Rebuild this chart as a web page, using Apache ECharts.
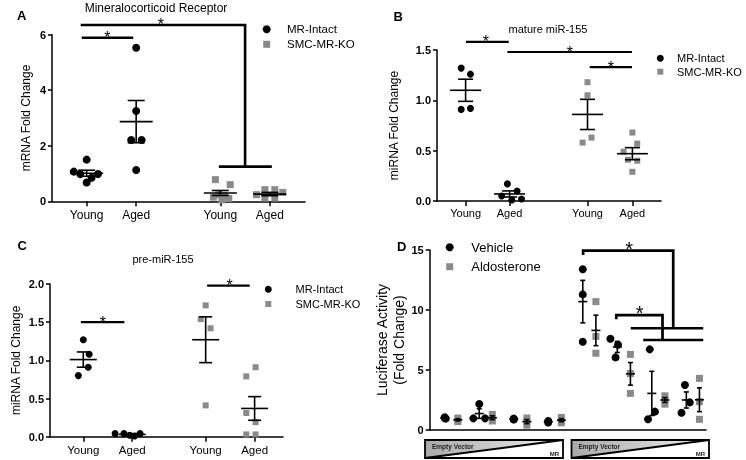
<!DOCTYPE html>
<html><head><meta charset="utf-8">
<script src="https://cdn.jsdelivr.net/npm/echarts@6/dist/echarts.min.js"></script>
<style>html,body{margin:0;padding:0;background:#fff}#c{width:746px;height:460px;will-change:transform}</style>
</head><body><div id="c"></div>
<script>
// ================= DATA =================
const groupLabels = ['Young', 'Aged', 'Young', 'Aged'];
const seriesNamesABC = ['MR-Intact', 'SMC-MR-KO'];
const seriesNamesD = ['Vehicle', 'Aldosterone'];

// Panel A — Mineralocorticoid Receptor (mRNA fold change)
const A_intact_young = [1.50, 1.07, 0.98, 0.85, 0.98, 0.68];
const A_intact_aged  = [5.53, 3.25, 2.21, 2.21, 1.13];
const A_ko_young     = [0.78, 0.60, 0.24, 0.20, 0.15, 0.10, 0.05];
const A_ko_aged      = [0.24, 0.42, 0.42, 0.32, 0.12, 0.12];
const A_mean = [1.01, 2.87, 0.30, 0.26];
const A_sem  = [0.11, 0.76, 0.09, 0.06];

// Panel B — mature miR-155
const B_intact_young = [1.32, 1.26, 0.91, 0.92];
const B_intact_aged  = [0.17, 0.10, 0.05, 0.01, 0.02];
const B_ko_young     = [1.18, 1.05, 0.63, 0.58];
const B_ko_aged      = [0.68, 0.57, 0.49, 0.41, 0.40, 0.29];
const B_mean = [1.10, 0.07, 0.86, 0.47];
const B_sem  = [0.11, 0.03, 0.15, 0.06];

// Panel C — pre-miR-155
const C_intact_young = [1.27, 1.08, 0.91, 0.80];
const C_intact_aged  = [0.04, 0.04, 0.02, 0.01, 0.04];
const C_ko_young     = [1.72, 1.54, 1.42, 0.41];
const C_ko_aged      = [0.91, 0.79, 0.31, 0.19, 0.03, 0.03];
const C_mean = [1.01, 0.03, 1.27, 0.37];
const C_sem  = [0.10, 0.01, 0.30, 0.155];

// Panel D — Luciferase activity, 8 conditions (Empty Vector -> MR)
const D_vehicle = [[1.06,1.00,0.95],[2.17,0.97,0.97],[0.95,0.92,0.88],[0.75,0.70,0.62],
                   [13.4,11.3,7.36],[7.60,7.10,6.05],[6.72,1.53,0.89],[3.75,2.30,1.44]];
const D_aldo    = [[1.00,0.85,0.70],[1.30,1.00,0.75],[1.00,0.70,0.40],[1.05,0.80,0.60],
                   [10.7,7.80,6.40],[6.30,4.70,3.05],[2.85,2.50,2.15],[4.30,2.36,0.89]];
const D_vehicle_mean = [1.00, 1.37, 0.92, 0.69, 10.7, 6.92, 3.05, 2.50];
const D_vehicle_sem  = [0.03, 0.40, 0.02, 0.04, 1.77, 0.46, 1.84, 0.67];
const D_aldo_mean    = [0.85, 1.02, 0.70, 0.82, 8.30, 4.68, 2.50, 2.52];
const D_aldo_sem     = [0.09, 0.16, 0.17, 0.13, 1.27, 0.94, 0.20, 0.99];

// ================= LAYOUT (positions / jitter, not data) =================
const xA = [1, 2, 3.7, 4.7];
const xB = [1, 2, 3.77, 4.79];
const xC = [1, 2, 3.5, 4.5];
const jitA = [[0,-0.26,-0.13,0.10,0.23,0],[0,0,-0.10,0.11,0],[-0.10,0.20,-0.03,0.09,-0.14,0.17,0.03],[-0.27,-0.10,0.10,0.26,-0.10,0.10]];
const jitB = [[-0.10,0.11,-0.10,0.11],[-0.05,0.17,-0.18,0.05,0.27],[0,0,0.09,-0.11],[0,0.11,-0.20,-0.10,0.11,0]];
const jitC = [[0,0.12,0.10,-0.10],[-0.35,-0.17,-0.05,0.05,0.16],[0,-0.10,0.10,0],[0.02,-0.17,-0.17,0.02,-0.17,0.02]];
const jitDv = [[0,0,0.03],[0,-0.17,0.17],[0,0,0],[0,0,0],[0,0,0],[-0.20,0.02,-0.05],[-0.06,0.09,-0.11],[-0.04,0.10,-0.14]];
const aldoShift = 0.38;

const FONT = "'Liberation Sans', Arial, Helvetica, sans-serif";
const GRAY = '#8a8a8a';

// significance brackets (data coordinates)
const brA = {lines:[[[0.9,5.89],[1.94,5.89]],[[0.88,6.35],[4.2,6.35],[4.2,1.25]],[[3.67,1.25],[4.74,1.25]]], stars:[[1.42,5.89],[2.5,6.35]]};
const brB = {lines:[[[1.01,1.58],[1.98,1.58]],[[1.95,1.48],[4.78,1.48]],[[3.82,1.33],[4.78,1.33]]], stars:[[1.46,1.58],[3.37,1.48],[4.3,1.33]]};
const brC = {lines:[[[0.95,1.5],[1.84,1.5]],[[3.53,1.98],[4.4,1.98]]], stars:[[1.4,1.5],[3.99,1.98]]};
const brD = {lines:[[[5.01,14.58],[5.01,14.94],[7.62,14.94],[7.62,8.48]],[[6.39,8.48],[8.49,8.48]],
                    [[5.97,9.22],[5.97,9.58],[7.31,9.58],[7.31,7.5]],[[6.75,7.5],[8.49,7.5]]], stars:[[6.34,14.94],[6.65,9.58]]};

// ================= HELPERS =================
function pts(values, x, jit) { return values.map((v, i) => [x + (jit ? jit[i] : 0), v]); }
function errData(xs, mean, sem) { return xs.map((x, i) => [x, mean[i], sem[i]]); }
function errRender(meanW, capW, lw) {
  return function (params, api) {
    const x = api.value(0), m = api.value(1), s = api.value(2);
    const pm = api.coord([x, m]), pt = api.coord([x, m + s]), pb = api.coord([x, m - s]);
    const st = {stroke: '#000', lineWidth: lw};
    return {type: 'group', children: [
      {type: 'line', shape: {x1: pm[0] - meanW / 2, y1: pm[1], x2: pm[0] + meanW / 2, y2: pm[1]}, style: st},
      {type: 'line', shape: {x1: pt[0], y1: pt[1], x2: pb[0], y2: pb[1]}, style: st},
      {type: 'line', shape: {x1: pt[0] - capW / 2, y1: pt[1], x2: pt[0] + capW / 2, y2: pt[1]}, style: st},
      {type: 'line', shape: {x1: pb[0] - capW / 2, y1: pb[1], x2: pb[0] + capW / 2, y2: pb[1]}, style: st}
    ]};
  };
}
function brRender(br, lw, starSize, starDy) {
  return function (params, api) {
    const ch = [];
    br.lines.forEach(pl => ch.push({type: 'polyline', shape: {points: pl.map(p => api.coord(p))},
      style: {stroke: '#000', lineWidth: lw, fill: null, lineJoin: 'miter'}}));
    br.stars.forEach(s => { const p = api.coord(s);
      ch.push({type: 'text', x: p[0], y: p[1] + starDy, style: {text: '*', fontSize: starSize, fontFamily: FONT,
        fill: '#000', align: 'center', verticalAlign: 'middle'}}); });
    return {type: 'group', children: ch};
  };
}
function labelFmt(xs) { return v => { const i = xs.findIndex(x => Math.abs(x - v) < 1e-6); return i >= 0 ? groupLabels[i] : ''; }; }
function xAxisCfg(gi, xs, min, max, fs, mg) {
  return {type: 'value', gridIndex: gi, min: min, max: max,
    axisLine: {show: true, onZero: false, lineStyle: {color: '#000', width: 1.5}},
    splitLine: {show: false},
    axisTick: xs ? {show: true, customValues: xs, length: 5, lineStyle: {color: '#000', width: 1.5}} : {show: false},
    axisLabel: xs ? {show: true, customValues: xs, formatter: labelFmt(xs), color: '#000', fontSize: fs, fontFamily: FONT, margin: mg} : {show: false}};
}
function yAxisCfg(gi, max, interval, name, gap, dec, nameFs) {
  return {type: 'value', gridIndex: gi, min: 0, max: max, interval: interval,
    name: name, nameLocation: 'middle', nameGap: gap, nameRotate: 90,
    nameTextStyle: {color: '#000', fontSize: nameFs, fontFamily: FONT, lineHeight: 17},
    axisLine: {show: true, onZero: false, lineStyle: {color: '#000', width: 1.5}},
    splitLine: {show: false},
    axisTick: {show: true, length: 4, lineStyle: {color: '#000', width: 1.5}},
    axisLabel: {color: '#000', fontSize: 11, fontWeight: 'bold', fontFamily: FONT, margin: 6,
      formatter: v => v.toFixed(dec)}};
}

// ================= SERIES =================
const series = [];
function addABC(gi, arrs, jits, xs, means, sems, circ, sq, meanW, capW, br, brLw) {
  const intact = pts(arrs[0], xs[0], jits[0]).concat(pts(arrs[1], xs[1], jits[1]));
  const ko = pts(arrs[2], xs[2], jits[2]).concat(pts(arrs[3], xs[3], jits[3]));
  series.push({type: 'scatter', name: seriesNamesABC[0], xAxisIndex: gi, yAxisIndex: gi, data: intact,
    symbol: 'circle', symbolSize: circ, itemStyle: {color: '#000', opacity: 1}, silent: true, z: 2});
  series.push({type: 'scatter', name: seriesNamesABC[1], xAxisIndex: gi, yAxisIndex: gi, data: ko,
    symbol: 'rect', symbolSize: sq, itemStyle: {color: GRAY, opacity: 1}, silent: true, z: 2});
  series.push({type: 'custom', xAxisIndex: gi, yAxisIndex: gi, data: errData(xs, means, sems),
    renderItem: errRender(meanW, capW, 1.6), silent: true, z: 3, clip: false});
  series.push({type: 'custom', xAxisIndex: gi, yAxisIndex: gi, data: [[0, 0]],
    renderItem: brRender(br, brLw, 16, 0), silent: true, z: 4, clip: false});
}
addABC(0, [A_intact_young, A_intact_aged, A_ko_young, A_ko_aged], jitA, xA, A_mean, A_sem, 8, 7, 33, 17, brA, 2.6);
addABC(1, [B_intact_young, B_intact_aged, B_ko_young, B_ko_aged], jitB, xB, B_mean, B_sem, 7, 6, 31, 15, brB, 2.2);
addABC(2, [C_intact_young, C_intact_aged, C_ko_young, C_ko_aged], jitC, xC, C_mean, C_sem, 7, 6, 27, 13, brC, 2.3);

// Panel D
const dVeh = [], dAld = [];
D_vehicle.forEach((g, i) => g.forEach((v, j) => dVeh.push([i + 1 + jitDv[i][j], v])));
D_aldo.forEach((g, i) => g.forEach((v) => dAld.push([i + 1 + aldoShift, v])));
series.push({type: 'scatter', name: seriesNamesD[0], xAxisIndex: 3, yAxisIndex: 3, data: dVeh,
  symbol: 'circle', symbolSize: 8, itemStyle: {color: '#000', opacity: 1}, silent: true, z: 2});
series.push({type: 'scatter', name: seriesNamesD[1], xAxisIndex: 3, yAxisIndex: 3, data: dAld,
  symbol: 'rect', symbolSize: 7, itemStyle: {color: GRAY, opacity: 1}, silent: true, z: 2});
const dX = D_vehicle_mean.map((m, i) => i + 1);
series.push({type: 'custom', xAxisIndex: 3, yAxisIndex: 3, data: errData(dX, D_vehicle_mean, D_vehicle_sem),
  renderItem: errRender(9, 5, 1.6), silent: true, z: 3, clip: false});
series.push({type: 'custom', xAxisIndex: 3, yAxisIndex: 3, data: errData(dX.map(x => x + aldoShift), D_aldo_mean, D_aldo_sem),
  renderItem: errRender(9, 5, 1.6), silent: true, z: 3, clip: false});
series.push({type: 'custom', xAxisIndex: 3, yAxisIndex: 3, data: [[0, 0]],
  renderItem: brRender(brD, 2.7, 20, -2), silent: true, z: 4, clip: false});

// ================= GRAPHICS (titles, panel letters, legends, vector boxes) =================
function txt(x, y, s, fs, opt) {
  return Object.assign({type: 'text', x: x, y: y, silent: true,
    style: Object.assign({text: s, fontSize: fs, fontFamily: FONT, fill: '#000', align: 'left', verticalAlign: 'middle'}, opt || {})});
}
function legend(cx, y1, y2, tx, names, fs, r, sq) {
  return [
    {type: 'circle', shape: {cx: cx, cy: y1, r: r}, style: {fill: '#000'}, silent: true},
    {type: 'rect', shape: {x: cx - sq / 2, y: y2 - sq / 2, width: sq, height: sq}, style: {fill: GRAY}, silent: true},
    txt(tx, y1, names[0], fs), txt(tx, y2, names[1], fs)
  ];
}
function vecBox(x, y, w, h) {
  return [
    {type: 'polygon', shape: {points: [[x, y + h], [x, y], [x + w, y]]}, silent: true,
      style: {fill: new echarts.graphic.LinearGradient(0, 0, 1, 0, [{offset: 0, color: '#a9a9a9'}, {offset: 1, color: '#eeeeee'}])}},
    {type: 'line', shape: {x1: x, y1: y + h, x2: x + w, y2: y}, style: {stroke: '#000', lineWidth: 2}, silent: true},
    {type: 'rect', shape: {x: x, y: y, width: w, height: h}, style: {fill: null, stroke: '#000', lineWidth: 1.8}, silent: true},
    txt(x + 7, y + 6.3, 'Empty Vector', 6.5, {fontWeight: 'bold', fill: '#222'}),
    txt(x + w - 4, y + h - 4.5, 'MR', 6, {fontWeight: 'bold', fill: '#222', align: 'right'})
  ];
}
const graphics = [].concat(
  [txt(156, 8, 'Mineralocorticoid Receptor', 12, {align: 'center'}),
   txt(548, 28.5, 'mature miR-155', 11, {align: 'center'}),
   txt(163, 258.5, 'pre-miR-155', 11, {align: 'center'}),
   txt(17, 15, 'A', 13, {fontWeight: 'bold'}),
   txt(393.5, 16.3, 'B', 13, {fontWeight: 'bold'}),
   txt(17.5, 245.3, 'C', 13, {fontWeight: 'bold'}),
   txt(397, 246.8, 'D', 13, {fontWeight: 'bold'})],
  legend(266.7, 29.3, 44.3, 287, seriesNamesABC, 11.5, 4, 7),
  legend(660.3, 58.3, 71.7, 677, seriesNamesABC, 11, 3.5, 6),
  legend(268.3, 289.3, 304, 295.5, seriesNamesABC, 11, 3.5, 6),
  legend(449.7, 247.3, 266.7, 471.3, seriesNamesD, 13, 4, 7),
  vecBox(425, 440, 138, 18),
  vecBox(571.5, 440, 137.5, 18)
);

const chart = echarts.init(document.getElementById('c'), null, {renderer: 'svg', width: 746, height: 460});
chart.setOption({
  animation: false,
  backgroundColor: '#fff',
  textStyle: {fontFamily: FONT},
  grid: [
    {left: 52, top: 34.7, width: 253, height: 166.6},
    {left: 437, top: 50, width: 224, height: 151},
    {left: 50, top: 284, width: 233, height: 152.7},
    {left: 429.7, top: 250, width: 276.3, height: 180}
  ],
  xAxis: [
    xAxisCfg(0, xA, 0.3, 5.41, 12, 8),
    xAxisCfg(1, xB, 0.35, 5.44, 11, 6),
    xAxisCfg(2, xC, 0.32, 5.08, 11.5, 7),
    xAxisCfg(3, null, 0.565, 8.57, 11, 6)
  ],
  yAxis: [
    yAxisCfg(0, 6, 2, 'mRNA Fold Change', 18, 0, 12),
    yAxisCfg(1, 1.5, 0.5, 'miRNA Fold Change', 35, 1, 12),
    yAxisCfg(2, 2, 0.5, 'miRNA Fold Change', 19, 1, 12),
    yAxisCfg(3, 15, 5, 'Luciferase Activity\n(Fold Change)', 11, 0, 14)
  ],
  series: series,
  graphic: graphics
});
</script>
</body></html>
